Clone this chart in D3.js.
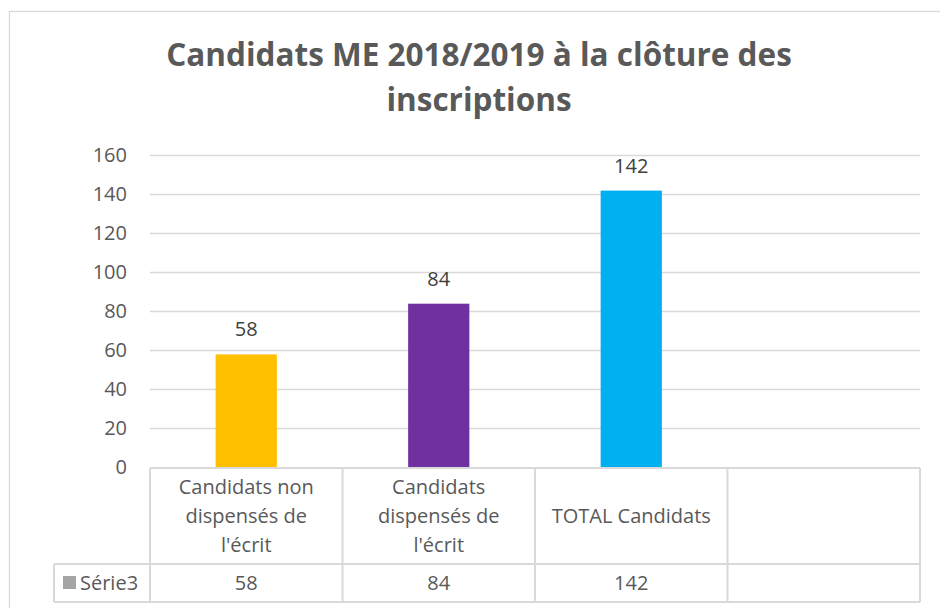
<!DOCTYPE html>
<html lang="fr">
  <head>
    <meta charset="UTF-8" />
    <title>Candidats ME 2018/2019</title>
    <script src="https://d3js.org/d3.v7.min.js"></script>
    <style>
      * {
        margin: 0;
        padding: 0;
      }
      body {
        background: #fff;
      }
      text {
        font-family: "Open Sans", sans-serif;
      }
    </style>
  </head>
  <body>
    <div id="chart"></div>
    <script>
      // data
      const categories = ["non", "disp", "total", "blank"];
      const catLines = [
        ["Candidats non", "dispensés de", "l'écrit"],
        ["Candidats", "dispensés de", "l'écrit"],
        ["TOTAL Candidats"],
        [],
      ];
      const values = [58, 84, 142, null];
      const colors = ["#FFC000", "#7030A0", "#00B0F0", "none"];
      const seriesName = "Série3";
      const yTicks = [0, 20, 40, 60, 80, 100, 120, 140, 160];
      const titleLines = [
        "Candidats ME 2018/2019 à la clôture des",
        "inscriptions",
      ];

      const width = 940;
      const height = 608;
      const MARGIN = { left: 150, right: 20, top: 156, bottom: 140 };
      const FS = 20;

      const svg = d3
        .select("#chart")
        .append("svg")
        .attr("width", width)
        .attr("height", height);

      // chart area border
      svg
        .append("rect")
        .attr("x", 9.5)
        .attr("y", 11.5)
        .attr("width", 960)
        .attr("height", 640)
        .attr("fill", "#fff")
        .attr("stroke", "#D9D9D9")
        .attr("stroke-width", 1.3);

      // title
      svg
        .append("g")
        .selectAll("text")
        .data(titleLines)
        .join("text")
        .attr("x", 479)
        .attr("y", (d, i) => 66 + i * 45)
        .attr("text-anchor", "middle")
        .attr("font-size", 31.5)
        .attr("font-weight", "bold")
        .attr("fill", "#595959")
        .text((d) => d);

      const x = d3
        .scaleBand()
        .domain(categories)
        .range([MARGIN.left, 920])
        .padding(0);

      const y = d3
        .scaleLinear()
        .domain([0, 160])
        .range([467.5, 155.5]);

      // grid lines
      svg
        .append("g")
        .selectAll("line")
        .data(yTicks.slice(1))
        .join("line")
        .attr("x1", MARGIN.left)
        .attr("x2", 920)
        .attr("y1", (d) => y(d))
        .attr("y2", (d) => y(d))
        .attr("stroke", "#D9D9D9")
        .attr("stroke-width", 1.5);

      // y axis labels
      const axisY = d3.axisLeft(y).tickValues(yTicks).tickSize(0).tickPadding(23);
      const gy = svg
        .append("g")
        .attr("transform", `translate(${MARGIN.left},0)`)
        .call(axisY);
      gy.select(".domain").remove();
      gy.selectAll("text")
        .attr("font-size", FS)
        .attr("fill", "#595959")
        .attr("font-family", "'Open Sans', sans-serif");

      // bars
      const barW = x.bandwidth() * 0.318;
      const bars = categories
        .map((c, i) => ({ c, v: values[i], color: colors[i] }))
        .filter((d) => d.v != null);

      svg
        .append("g")
        .selectAll("rect")
        .data(bars)
        .join("rect")
        .attr("x", (d) => x(d.c) + (x.bandwidth() - barW) / 2)
        .attr("y", (d) => y(d.v))
        .attr("width", barW)
        .attr("height", (d) => y(0) - y(d.v))
        .attr("fill", (d) => d.color);

      // value labels
      svg
        .append("g")
        .selectAll("text")
        .data(bars)
        .join("text")
        .attr("x", (d) => x(d.c) + x.bandwidth() / 2)
        .attr("y", (d) => y(d.v) - 18)
        .attr("text-anchor", "middle")
        .attr("font-size", FS)
        .attr("fill", "#404040")
        .text((d) => d.v);

      // data table
      const tTop = 468;
      const tMid = 564;
      const tBot = 602;
      const tLeft = 54;
      const tbl = svg.append("g");
      const lineColor = "#D9D9D9";

      tbl
        .append("line")
        .attr("x1", MARGIN.left)
        .attr("x2", 920)
        .attr("y1", tTop)
        .attr("y2", tTop)
        .attr("stroke", lineColor)
        .attr("stroke-width", 2);
      [tMid, tBot].forEach((yy) =>
        tbl
          .append("line")
          .attr("x1", tLeft)
          .attr("x2", 920)
          .attr("y1", yy)
          .attr("y2", yy)
          .attr("stroke", lineColor)
          .attr("stroke-width", 2)
      );
      tbl
        .append("line")
        .attr("x1", tLeft)
        .attr("x2", tLeft)
        .attr("y1", tMid)
        .attr("y2", tBot)
        .attr("stroke", lineColor)
        .attr("stroke-width", 2);
      tbl
        .selectAll("line.v")
        .data(categories.map((c) => x(c)).concat([920]))
        .join("line")
        .attr("class", "v")
        .attr("x1", (d) => d)
        .attr("x2", (d) => d)
        .attr("y1", tTop)
        .attr("y2", tBot)
        .attr("stroke", lineColor)
        .attr("stroke-width", 2);

      // category labels
      categories.forEach((c, i) => {
        const lines = catLines[i];
        const cy = (tTop + tMid) / 2;
        const lh = 29;
        tbl
          .selectAll(null)
          .data(lines)
          .join("text")
          .attr("x", x(c) + x.bandwidth() / 2)
          .attr("y", (d, j) => cy + (j - (lines.length - 1) / 2) * lh)
          .attr("dy", "0.35em")
          .attr("text-anchor", "middle")
          .attr("font-size", FS)
          .attr("fill", "#595959")
          .text((d) => d);
      });

      // legend cell
      tbl
        .append("rect")
        .attr("x", 63)
        .attr("y", 576)
        .attr("width", 13)
        .attr("height", 13)
        .attr("fill", "#A5A5A5");
      tbl
        .append("text")
        .attr("x", 80)
        .attr("y", (tMid + tBot) / 2)
        .attr("dy", "0.35em")
        .attr("font-size", FS)
        .attr("fill", "#595959")
        .text(seriesName);

      // values row
      tbl
        .selectAll("text.val")
        .data(bars)
        .join("text")
        .attr("class", "val")
        .attr("x", (d) => x(d.c) + x.bandwidth() / 2)
        .attr("y", (tMid + tBot) / 2)
        .attr("dy", "0.35em")
        .attr("text-anchor", "middle")
        .attr("font-size", FS)
        .attr("fill", "#595959")
        .text((d) => d.v);
    </script>
  </body>
</html>
